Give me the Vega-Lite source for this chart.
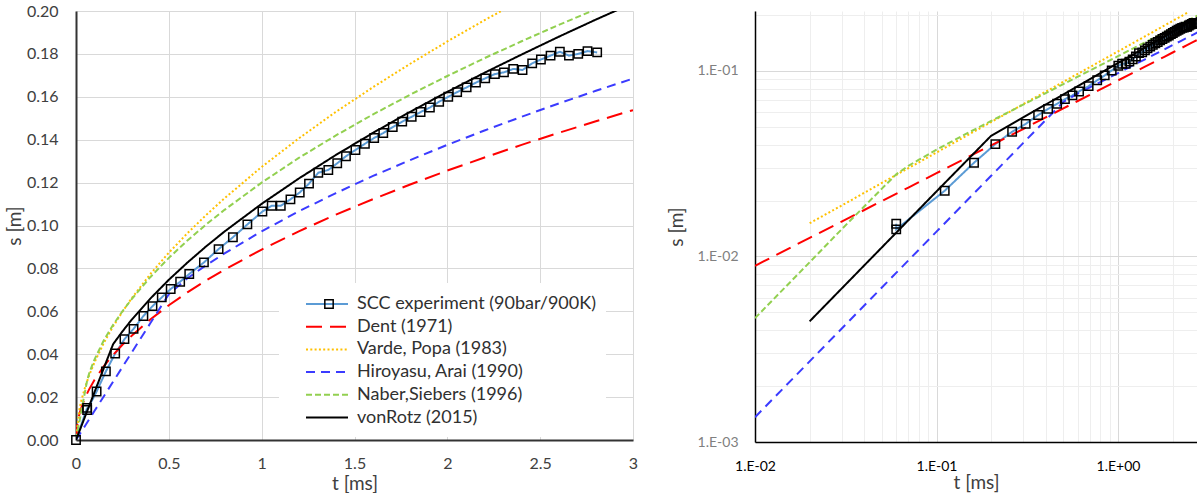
{
  "$schema": "https://vega.github.io/schema/vega-lite/v6.json",
  "background": "white",
  "padding": {"left": 5, "top": 3, "right": 0, "bottom": 0},
  "config": {
    "view": {"stroke": null},
    "font": "Lato",
    "axis": {"ticks": false, "titleFontWeight": "normal", "labelFlush": false, "labelOverlap": false}
  },
  "resolve": {"scale": {"color": "independent", "strokeDash": "independent", "shape": "independent"}, "legend": {"color": "independent", "strokeDash": "independent", "shape": "independent"}},
  "spacing": 29,
  "datasets": {
    "curves": [
      {"model": "SCC experiment (90bar/900K)", "t": 0, "s": 0},
      {"model": "SCC experiment (90bar/900K)", "t": 0.06, "s": 0.0150},
      {"model": "SCC experiment (90bar/900K)", "t": 0.06, "s": 0.0140},
      {"model": "SCC experiment (90bar/900K)", "t": 0.111, "s": 0.0226},
      {"model": "SCC experiment (90bar/900K)", "t": 0.161, "s": 0.0320},
      {"model": "SCC experiment (90bar/900K)", "t": 0.211, "s": 0.0403},
      {"model": "SCC experiment (90bar/900K)", "t": 0.261, "s": 0.0470},
      {"model": "SCC experiment (90bar/900K)", "t": 0.310, "s": 0.0518},
      {"model": "SCC experiment (90bar/900K)", "t": 0.363, "s": 0.0578},
      {"model": "SCC experiment (90bar/900K)", "t": 0.412, "s": 0.0624},
      {"model": "SCC experiment (90bar/900K)", "t": 0.462, "s": 0.0665},
      {"model": "SCC experiment (90bar/900K)", "t": 0.510, "s": 0.0704},
      {"model": "SCC experiment (90bar/900K)", "t": 0.561, "s": 0.0738},
      {"model": "SCC experiment (90bar/900K)", "t": 0.610, "s": 0.0774},
      {"model": "SCC experiment (90bar/900K)", "t": 0.689, "s": 0.0828},
      {"model": "SCC experiment (90bar/900K)", "t": 0.768, "s": 0.0890},
      {"model": "SCC experiment (90bar/900K)", "t": 0.845, "s": 0.0945},
      {"model": "SCC experiment (90bar/900K)", "t": 0.923, "s": 0.1005},
      {"model": "SCC experiment (90bar/900K)", "t": 1.004, "s": 0.1065},
      {"model": "SCC experiment (90bar/900K)", "t": 1.054, "s": 0.1092},
      {"model": "SCC experiment (90bar/900K)", "t": 1.103, "s": 0.1092},
      {"model": "SCC experiment (90bar/900K)", "t": 1.155, "s": 0.1122},
      {"model": "SCC experiment (90bar/900K)", "t": 1.205, "s": 0.1154},
      {"model": "SCC experiment (90bar/900K)", "t": 1.255, "s": 0.1195},
      {"model": "SCC experiment (90bar/900K)", "t": 1.305, "s": 0.1246},
      {"model": "SCC experiment (90bar/900K)", "t": 1.359, "s": 0.1259},
      {"model": "SCC experiment (90bar/900K)", "t": 1.407, "s": 0.1290},
      {"model": "SCC experiment (90bar/900K)", "t": 1.454, "s": 0.1323},
      {"model": "SCC experiment (90bar/900K)", "t": 1.505, "s": 0.1352},
      {"model": "SCC experiment (90bar/900K)", "t": 1.556, "s": 0.1381},
      {"model": "SCC experiment (90bar/900K)", "t": 1.606, "s": 0.1408},
      {"model": "SCC experiment (90bar/900K)", "t": 1.655, "s": 0.1431},
      {"model": "SCC experiment (90bar/900K)", "t": 1.706, "s": 0.1459},
      {"model": "SCC experiment (90bar/900K)", "t": 1.757, "s": 0.1484},
      {"model": "SCC experiment (90bar/900K)", "t": 1.808, "s": 0.1507},
      {"model": "SCC experiment (90bar/900K)", "t": 1.856, "s": 0.1529},
      {"model": "SCC experiment (90bar/900K)", "t": 1.906, "s": 0.1550},
      {"model": "SCC experiment (90bar/900K)", "t": 1.956, "s": 0.1577},
      {"model": "SCC experiment (90bar/900K)", "t": 2.005, "s": 0.1600},
      {"model": "SCC experiment (90bar/900K)", "t": 2.053, "s": 0.1622},
      {"model": "SCC experiment (90bar/900K)", "t": 2.104, "s": 0.1644},
      {"model": "SCC experiment (90bar/900K)", "t": 2.154, "s": 0.1666},
      {"model": "SCC experiment (90bar/900K)", "t": 2.204, "s": 0.1686},
      {"model": "SCC experiment (90bar/900K)", "t": 2.256, "s": 0.1706},
      {"model": "SCC experiment (90bar/900K)", "t": 2.305, "s": 0.1714},
      {"model": "SCC experiment (90bar/900K)", "t": 2.355, "s": 0.1730},
      {"model": "SCC experiment (90bar/900K)", "t": 2.405, "s": 0.1725},
      {"model": "SCC experiment (90bar/900K)", "t": 2.457, "s": 0.1756},
      {"model": "SCC experiment (90bar/900K)", "t": 2.504, "s": 0.1774},
      {"model": "SCC experiment (90bar/900K)", "t": 2.556, "s": 0.1792},
      {"model": "SCC experiment (90bar/900K)", "t": 2.606, "s": 0.1810},
      {"model": "SCC experiment (90bar/900K)", "t": 2.655, "s": 0.1792},
      {"model": "SCC experiment (90bar/900K)", "t": 2.705, "s": 0.1800},
      {"model": "SCC experiment (90bar/900K)", "t": 2.755, "s": 0.1813},
      {"model": "SCC experiment (90bar/900K)", "t": 2.807, "s": 0.1807},

      {"model": "Dent (1971)", "t": 0, "s": 0},
      {"model": "Dent (1971)", "t": 0.01, "s": 0.0089},
      {"model": "Dent (1971)", "t": 0.02, "s": 0.0126},
      {"model": "Dent (1971)", "t": 0.03, "s": 0.0154},
      {"model": "Dent (1971)", "t": 0.05, "s": 0.0199},
      {"model": "Dent (1971)", "t": 0.07, "s": 0.0235},
      {"model": "Dent (1971)", "t": 0.1, "s": 0.0281},
      {"model": "Dent (1971)", "t": 0.15, "s": 0.0344},
      {"model": "Dent (1971)", "t": 0.2, "s": 0.0397},
      {"model": "Dent (1971)", "t": 0.25, "s": 0.0444},
      {"model": "Dent (1971)", "t": 0.3, "s": 0.0486},
      {"model": "Dent (1971)", "t": 0.4, "s": 0.0562},
      {"model": "Dent (1971)", "t": 0.5, "s": 0.0628},
      {"model": "Dent (1971)", "t": 0.6, "s": 0.0688},
      {"model": "Dent (1971)", "t": 0.7, "s": 0.0743},
      {"model": "Dent (1971)", "t": 0.8, "s": 0.0794},
      {"model": "Dent (1971)", "t": 1.0, "s": 0.0888},
      {"model": "Dent (1971)", "t": 1.2, "s": 0.0973},
      {"model": "Dent (1971)", "t": 1.4, "s": 0.1051},
      {"model": "Dent (1971)", "t": 1.6, "s": 0.1123},
      {"model": "Dent (1971)", "t": 1.8, "s": 0.1191},
      {"model": "Dent (1971)", "t": 2.0, "s": 0.1256},
      {"model": "Dent (1971)", "t": 2.2, "s": 0.1317},
      {"model": "Dent (1971)", "t": 2.4, "s": 0.1376},
      {"model": "Dent (1971)", "t": 2.6, "s": 0.1432},
      {"model": "Dent (1971)", "t": 2.8, "s": 0.1486},
      {"model": "Dent (1971)", "t": 3.0, "s": 0.1538},

      {"model": "Varde, Popa (1983)", "t": 0, "s": 0},
      {"model": "Varde, Popa (1983)", "t": 0.02, "s": 0.0151},
      {"model": "Varde, Popa (1983)", "t": 0.03, "s": 0.0188},
      {"model": "Varde, Popa (1983)", "t": 0.05, "s": 0.0249},
      {"model": "Varde, Popa (1983)", "t": 0.07, "s": 0.0299},
      {"model": "Varde, Popa (1983)", "t": 0.1, "s": 0.0363},
      {"model": "Varde, Popa (1983)", "t": 0.15, "s": 0.0453},
      {"model": "Varde, Popa (1983)", "t": 0.2, "s": 0.0530},
      {"model": "Varde, Popa (1983)", "t": 0.25, "s": 0.0598},
      {"model": "Varde, Popa (1983)", "t": 0.3, "s": 0.0661},
      {"model": "Varde, Popa (1983)", "t": 0.4, "s": 0.0773},
      {"model": "Varde, Popa (1983)", "t": 0.5, "s": 0.0873},
      {"model": "Varde, Popa (1983)", "t": 0.6, "s": 0.0964},
      {"model": "Varde, Popa (1983)", "t": 0.7, "s": 0.1048},
      {"model": "Varde, Popa (1983)", "t": 0.8, "s": 0.1127},
      {"model": "Varde, Popa (1983)", "t": 1.0, "s": 0.1273},
      {"model": "Varde, Popa (1983)", "t": 1.2, "s": 0.1406},
      {"model": "Varde, Popa (1983)", "t": 1.4, "s": 0.1530},
      {"model": "Varde, Popa (1983)", "t": 1.6, "s": 0.1645},
      {"model": "Varde, Popa (1983)", "t": 1.8, "s": 0.1754},
      {"model": "Varde, Popa (1983)", "t": 2.0, "s": 0.1858},
      {"model": "Varde, Popa (1983)", "t": 2.2, "s": 0.1957},
      {"model": "Varde, Popa (1983)", "t": 2.4, "s": 0.2052},

      {"model": "Hiroyasu, Arai (1990)", "t": 0, "s": 0},
      {"model": "Hiroyasu, Arai (1990)", "t": 0.01, "s": 0.00136},
      {"model": "Hiroyasu, Arai (1990)", "t": 0.02, "s": 0.00272},
      {"model": "Hiroyasu, Arai (1990)", "t": 0.05, "s": 0.0068},
      {"model": "Hiroyasu, Arai (1990)", "t": 0.1, "s": 0.0136},
      {"model": "Hiroyasu, Arai (1990)", "t": 0.2, "s": 0.0272},
      {"model": "Hiroyasu, Arai (1990)", "t": 0.3, "s": 0.0408},
      {"model": "Hiroyasu, Arai (1990)", "t": 0.4, "s": 0.0544},
      {"model": "Hiroyasu, Arai (1990)", "t": 0.5, "s": 0.0680},
      {"model": "Hiroyasu, Arai (1990)", "t": 0.6, "s": 0.0754},
      {"model": "Hiroyasu, Arai (1990)", "t": 0.7, "s": 0.0814},
      {"model": "Hiroyasu, Arai (1990)", "t": 0.8, "s": 0.0870},
      {"model": "Hiroyasu, Arai (1990)", "t": 1.0, "s": 0.0973},
      {"model": "Hiroyasu, Arai (1990)", "t": 1.2, "s": 0.1066},
      {"model": "Hiroyasu, Arai (1990)", "t": 1.4, "s": 0.1151},
      {"model": "Hiroyasu, Arai (1990)", "t": 1.6, "s": 0.1231},
      {"model": "Hiroyasu, Arai (1990)", "t": 1.8, "s": 0.1305},
      {"model": "Hiroyasu, Arai (1990)", "t": 2.0, "s": 0.1376},
      {"model": "Hiroyasu, Arai (1990)", "t": 2.2, "s": 0.1443},
      {"model": "Hiroyasu, Arai (1990)", "t": 2.4, "s": 0.1507},
      {"model": "Hiroyasu, Arai (1990)", "t": 2.6, "s": 0.1569},
      {"model": "Hiroyasu, Arai (1990)", "t": 2.8, "s": 0.1628},
      {"model": "Hiroyasu, Arai (1990)", "t": 3.0, "s": 0.1685},

      {"model": "Naber,Siebers (1996)", "t": 0, "s": 0},
      {"model": "Naber,Siebers (1996)", "t": 0.01, "s": 0.00465},
      {"model": "Naber,Siebers (1996)", "t": 0.02, "s": 0.0093},
      {"model": "Naber,Siebers (1996)", "t": 0.03, "s": 0.0140},
      {"model": "Naber,Siebers (1996)", "t": 0.05, "s": 0.0232},
      {"model": "Naber,Siebers (1996)", "t": 0.06, "s": 0.0277},
      {"model": "Naber,Siebers (1996)", "t": 0.07, "s": 0.0308},
      {"model": "Naber,Siebers (1996)", "t": 0.08, "s": 0.0332},
      {"model": "Naber,Siebers (1996)", "t": 0.1, "s": 0.0376},
      {"model": "Naber,Siebers (1996)", "t": 0.15, "s": 0.0465},
      {"model": "Naber,Siebers (1996)", "t": 0.2, "s": 0.0537},
      {"model": "Naber,Siebers (1996)", "t": 0.25, "s": 0.0600},
      {"model": "Naber,Siebers (1996)", "t": 0.3, "s": 0.0657},
      {"model": "Naber,Siebers (1996)", "t": 0.4, "s": 0.0759},
      {"model": "Naber,Siebers (1996)", "t": 0.5, "s": 0.0849},
      {"model": "Naber,Siebers (1996)", "t": 0.6, "s": 0.0930},
      {"model": "Naber,Siebers (1996)", "t": 0.7, "s": 0.1004},
      {"model": "Naber,Siebers (1996)", "t": 0.8, "s": 0.1073},
      {"model": "Naber,Siebers (1996)", "t": 1.0, "s": 0.1200},
      {"model": "Naber,Siebers (1996)", "t": 1.2, "s": 0.1315},
      {"model": "Naber,Siebers (1996)", "t": 1.4, "s": 0.1420},
      {"model": "Naber,Siebers (1996)", "t": 1.6, "s": 0.1518},
      {"model": "Naber,Siebers (1996)", "t": 1.8, "s": 0.1610},
      {"model": "Naber,Siebers (1996)", "t": 2.0, "s": 0.1697},
      {"model": "Naber,Siebers (1996)", "t": 2.2, "s": 0.1780},
      {"model": "Naber,Siebers (1996)", "t": 2.4, "s": 0.1859},
      {"model": "Naber,Siebers (1996)", "t": 2.6, "s": 0.1935},
      {"model": "Naber,Siebers (1996)", "t": 2.8, "s": 0.2008},

      {"model": "vonRotz (2015)", "t": 0, "s": 0},
      {"model": "vonRotz (2015)", "t": 0.02, "s": 0.00447},
      {"model": "vonRotz (2015)", "t": 0.1, "s": 0.0224},
      {"model": "vonRotz (2015)", "t": 0.2, "s": 0.0447},
      {"model": "vonRotz (2015)", "t": 0.25, "s": 0.0506},
      {"model": "vonRotz (2015)", "t": 0.3, "s": 0.0561},
      {"model": "vonRotz (2015)", "t": 0.4, "s": 0.0659},
      {"model": "vonRotz (2015)", "t": 0.5, "s": 0.0747},
      {"model": "vonRotz (2015)", "t": 0.6, "s": 0.0827},
      {"model": "vonRotz (2015)", "t": 0.7, "s": 0.0902},
      {"model": "vonRotz (2015)", "t": 0.8, "s": 0.0972},
      {"model": "vonRotz (2015)", "t": 1.0, "s": 0.1101},
      {"model": "vonRotz (2015)", "t": 1.2, "s": 0.1219},
      {"model": "vonRotz (2015)", "t": 1.4, "s": 0.1329},
      {"model": "vonRotz (2015)", "t": 1.6, "s": 0.1432},
      {"model": "vonRotz (2015)", "t": 1.8, "s": 0.1530},
      {"model": "vonRotz (2015)", "t": 2.0, "s": 0.1623},
      {"model": "vonRotz (2015)", "t": 2.2, "s": 0.1712},
      {"model": "vonRotz (2015)", "t": 2.4, "s": 0.1797},
      {"model": "vonRotz (2015)", "t": 2.6, "s": 0.1880},
      {"model": "vonRotz (2015)", "t": 2.8, "s": 0.1960},
      {"model": "vonRotz (2015)", "t": 3.0, "s": 0.2037}
    ]
  },
  "hconcat": [
    {
      "width": 557,
      "height": 429,
      "layer": [
        {
          "data": {"name": "curves"},
          "mark": {"type": "line", "clip": true, "strokeWidth": 2},
          "encoding": {
            "x": {"field": "t", "type": "quantitative",
              "scale": {"domain": [0, 3], "nice": false, "zero": false},
              "axis": {"values": [0, 0.5, 1, 1.5, 2, 2.5, 3], "format": "~g", "title": "t [ms]", "grid": true, "gridColor": "#d9d9d9", "domainColor": "#333333", "domainWidth": 2, "labelPadding": 15, "labelFontSize": 16, "labelColor": "#404040", "titleFontSize": 19, "titleColor": "#404040", "titlePadding": 3}},
            "y": {"field": "s", "type": "quantitative",
              "scale": {"domain": [0, 0.2], "nice": false},
              "axis": {"values": [0, 0.02, 0.04, 0.06, 0.08, 0.1, 0.12, 0.14, 0.16, 0.18, 0.2], "format": ".2f", "title": "s [m]", "grid": true, "gridColor": "#d9d9d9", "domainColor": "#333333", "domainWidth": 2, "labelPadding": 18, "labelFontSize": 16, "labelColor": "#404040", "titleFontSize": 19, "titleColor": "#404040", "titlePadding": 2}},
            "color": {"field": "model", "type": "nominal",
              "scale": {"domain": ["SCC experiment (90bar/900K)", "Dent (1971)", "Varde, Popa (1983)", "Hiroyasu, Arai (1990)", "Naber,Siebers (1996)", "vonRotz (2015)"], "range": ["#5B9BD5", "#FF0000", "#FFC000", "#3B3BFF", "#92D050", "#000000"]},
              "legend": {"title": null, "orient": "none", "legendX": 203, "legendY": 272, "padding": 10, "fillColor": "#ffffff", "symbolType": "M-2.1,0H2.1", "symbolSize": 400, "symbolStrokeWidth": 2, "symbolOffset": 27, "labelOffset": 19, "rowPadding": 2.7, "labelFontSize": 18, "labelColor": "#303030", "labelLimit": 400}},
            "strokeDash": {"field": "model", "type": "nominal",
              "scale": {"domain": ["SCC experiment (90bar/900K)", "Dent (1971)", "Varde, Popa (1983)", "Hiroyasu, Arai (1990)", "Naber,Siebers (1996)", "vonRotz (2015)"], "range": [[1, 0], [16, 8], [2, 2.3], [9, 6], [6, 3], [1, 0]]},
              "legend": {"title": null, "orient": "none", "legendX": 203, "legendY": 272, "padding": 10, "fillColor": "#ffffff", "symbolType": "M-2.1,0H2.1", "symbolSize": 400, "symbolStrokeWidth": 2, "symbolOffset": 27, "labelOffset": 19, "rowPadding": 2.7, "labelFontSize": 18, "labelColor": "#303030", "labelLimit": 400}}
          }
        },
        {
          "data": {"name": "curves"},
          "transform": [{"filter": "datum.model == 'SCC experiment (90bar/900K)'"}],
          "mark": {"type": "point", "filled": false, "color": "#000000", "size": 70, "strokeWidth": 1.5, "opacity": 1},
          "encoding": {
            "x": {"field": "t", "type": "quantitative"},
            "y": {"field": "s", "type": "quantitative"},
            "shape": {"datum": "marker", "type": "nominal", "scale": {"range": ["square"]},
              "legend": {"title": null, "orient": "none", "legendX": 248, "legendY": 288, "padding": 0, "labelExpr": "''", "labelFontSize": 1, "symbolStrokeWidth": 1.5, "symbolSize": 70}}
          }
        }
      ]
    },
    {
      "width": 442,
      "height": 431,
      "layer": [
        {
          "data": {"name": "curves"},
          "transform": [{"filter": "datum.t > 0"}],
          "mark": {"type": "line", "clip": true, "strokeWidth": 2},
          "encoding": {
            "x": {"field": "t", "type": "quantitative",
              "scale": {"type": "log", "domain": [0.01, 2.724], "nice": false},
              "axis": {"values": [0.01, 0.02, 0.03, 0.04, 0.05, 0.06, 0.07, 0.08, 0.09, 0.1, 0.2, 0.3, 0.4, 0.5, 0.6, 0.7, 0.8, 0.9, 1, 2],
                "labelExpr": "datum.value == 0.01 ? '1.E-02' : datum.value == 0.1 ? '1.E-01' : datum.value == 1 ? '1.E+00' : ''",
                "title": "t [ms]", "grid": true,
                "gridColor": {"condition": {"test": "datum.value == 0.01 || datum.value == 0.1 || datum.value == 1", "value": "#d9d9d9"}, "value": "#eeeeee"},
                "domainColor": "#000000", "domainWidth": 1.5, "labelPadding": 17, "labelFontSize": 14, "labelColor": "#000000", "titleFontSize": 19, "titleColor": "#404040", "titlePadding": 0}},
            "y": {"field": "s", "type": "quantitative",
              "scale": {"type": "log", "domain": [0.001, 0.2102], "nice": false},
              "axis": {"values": [0.001, 0.002, 0.003, 0.004, 0.005, 0.006, 0.007, 0.008, 0.009, 0.01, 0.02, 0.03, 0.04, 0.05, 0.06, 0.07, 0.08, 0.09, 0.1, 0.2],
                "labelExpr": "datum.value == 0.001 ? '1.E-03' : datum.value == 0.01 ? '1.E-02' : datum.value == 0.1 ? '1.E-01' : ''",
                "title": "s [m]", "grid": true,
                "gridColor": {"condition": {"test": "datum.value == 0.001 || datum.value == 0.01 || datum.value == 0.1", "value": "#d9d9d9"}, "value": "#eeeeee"},
                "domainColor": "#000000", "domainWidth": 1.5, "labelPadding": 17, "labelFontSize": 14, "labelColor": "#808080", "titleFontSize": 19, "titleColor": "#404040", "titlePadding": 11}},
            "color": {"field": "model", "type": "nominal",
              "scale": {"domain": ["SCC experiment (90bar/900K)", "Dent (1971)", "Varde, Popa (1983)", "Hiroyasu, Arai (1990)", "Naber,Siebers (1996)", "vonRotz (2015)"], "range": ["#5B9BD5", "#FF0000", "#FFC000", "#3B3BFF", "#92D050", "#000000"]},
              "legend": null},
            "strokeDash": {"field": "model", "type": "nominal",
              "scale": {"domain": ["SCC experiment (90bar/900K)", "Dent (1971)", "Varde, Popa (1983)", "Hiroyasu, Arai (1990)", "Naber,Siebers (1996)", "vonRotz (2015)"], "range": [[1, 0], [16, 8], [2, 2.3], [9, 6], [6, 3], [1, 0]]},
              "legend": null}
          }
        },
        {
          "data": {"name": "curves"},
          "transform": [{"filter": "datum.model == 'SCC experiment (90bar/900K)' && datum.t > 0"}],
          "mark": {"type": "point", "shape": "square", "filled": false, "color": "#000000", "size": 70, "strokeWidth": 1.5, "opacity": 1, "clip": true},
          "encoding": {
            "x": {"field": "t", "type": "quantitative"},
            "y": {"field": "s", "type": "quantitative"}
          }
        }
      ]
    }
  ]
}
